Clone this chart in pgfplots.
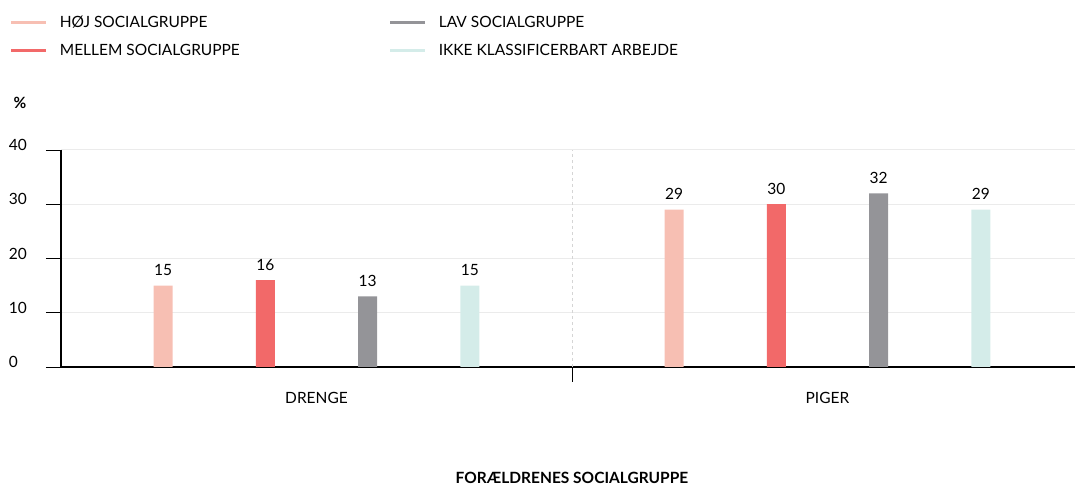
\documentclass[border=0pt]{standalone}
\usepackage{pgfplots}
\pgfplotsset{compat=1.18}
\usepackage{fontspec}
\setmainfont{Lato}
\definecolor{cHoj}{HTML}{F7BFB3}
\definecolor{cMel}{HTML}{F26969}
\definecolor{cLav}{HTML}{949498}
\definecolor{cIkk}{HTML}{D4ECE9}
\definecolor{gridc}{HTML}{EBEBEB}
\newcommand{\fs}{\fontsize{15.5}{18}\selectfont}
\begin{document}
\begin{tikzpicture}[x=1pt,y=1pt]
\useasboundingbox (0,0) rectangle (1075,489);
\begin{axis}[
  at={(61pt,122pt)}, anchor=south west,
  scale only axis, width=1022pt, height=217pt,
  xmin=-0.5, xmax=1.5, ymin=0, ymax=40,
  /pgf/number format/assume math mode=true,
  axis x line=bottom, axis y line=left,
  x axis line style={-, black, line width=2.8pt},
  y axis line style={-, black, line width=2pt},
  ytick={0,10,20,30,40},
  ymajorgrids, major grid style={gridc, line width=1pt},
  tick align=outside, major tick length=15pt,
  ytick style={black, line width=0.8pt},
  yticklabel style={anchor=east, inner sep=0pt, text width=22pt, align=left, xshift=-15pt, yshift=5pt, font=\fs},
  xtick={0,1}, xticklabels={DRENGE,PIGER},
  xtick style={draw=none},
  xticklabel style={font=\fs, yshift=-7pt},
  extra x ticks={0.5}, extra x tick labels={},
  extra x tick style={xtick style={draw=black, line width=0.8pt}, xmajorgrids=true, major grid style={gridc!80!gray, dashed, line width=0.8pt}},
  xlabel={\bfseries FORÆLDRENES SOCIALGRUPPE},
  xlabel style={at={(axis description cs:0.5,0)}, anchor=center, yshift=-111pt, font=\fs},
  ylabel={\bfseries\%},
  ylabel style={rotate=-90, at={(axis description cs:-0.0499,1.217)}, anchor=west, font=\fs},
  ybar, bar width=19pt, bar shift=0pt,
  nodes near coords,
  nodes near coords style={font=\fs, black, yshift=6.5pt},
  legend columns=2,
  legend style={at={(axis description cs:-0.0522,1.637)}, anchor=north west, draw=none, fill=none,
    font=\fs, column sep=0pt, row sep=11.5pt,
    /tikz/every odd column/.append style={column sep=12pt},
    /tikz/every even column/.append style={column sep=10pt}},
  legend cell align=left,
  legend image code/.code={\fill[#1, draw=none] (0pt,-1.5pt) rectangle (35pt,1.5pt);},
]
\addplot[fill=cHoj, draw=none] coordinates {(-0.3,15) (0.7,29)};
\addlegendentry{\makebox[318pt][l]{HØJ SOCIALGRUPPE}}
\addplot[fill=cLav, draw=none] coordinates {(0.1,13) (1.1,32)};
\addlegendentry{LAV SOCIALGRUPPE}
\addplot[fill=cMel, draw=none] coordinates {(-0.1,16) (0.9,30)};
\addlegendentry{\makebox[318pt][l]{MELLEM SOCIALGRUPPE}}
\addplot[fill=cIkk, draw=none] coordinates {(0.3,15) (1.3,29)};
\addlegendentry{IKKE KLASSIFICERBART ARBEJDE}
\end{axis}
\end{tikzpicture}
\end{document}
